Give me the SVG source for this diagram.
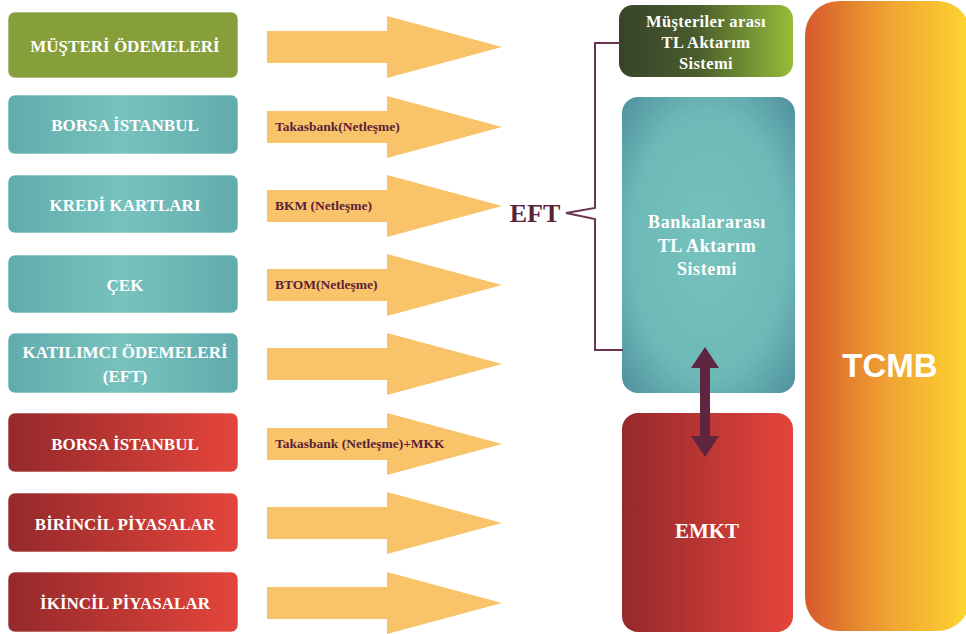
<svg xmlns="http://www.w3.org/2000/svg" xmlns:xlink="http://www.w3.org/1999/xlink" width="966" height="634" viewBox="0 0 966 634">
  <defs>
    <linearGradient id="gTealL" x1="0" y1="0" x2="1" y2="0">
      <stop offset="0" stop-color="#62abac"/>
      <stop offset="0.5" stop-color="#77c2bd"/>
      <stop offset="1" stop-color="#62abad"/>
    </linearGradient>
    <radialGradient id="gTealR" cx="0.5" cy="0.5" r="0.75">
      <stop offset="0" stop-color="#76c2bd"/>
      <stop offset="0.6" stop-color="#6db9b7"/>
      <stop offset="1" stop-color="#4a8899"/>
    </radialGradient>
    <linearGradient id="gRed" x1="0" y1="0" x2="1" y2="0">
      <stop offset="0" stop-color="#95292b"/>
      <stop offset="1" stop-color="#e4453b"/>
    </linearGradient>
    <linearGradient id="gGreenR" x1="0" y1="0" x2="1" y2="0">
      <stop offset="0" stop-color="#37432a"/>
      <stop offset="0.45" stop-color="#4a5c2c"/>
      <stop offset="1" stop-color="#95bd3a"/>
    </linearGradient>
    <linearGradient id="gTcmb" x1="0" y1="0" x2="1" y2="0">
      <stop offset="0" stop-color="#d75a2c"/>
      <stop offset="0.5" stop-color="#f0a232"/>
      <stop offset="1" stop-color="#fdd631"/>
    </linearGradient>
    <path id="arrow" d="M267,-16 H387 V-31 L502,0 L387,31 V16 H267 Z"/>
  </defs>
  <style>
    .box { stroke: #ffffff; stroke-opacity: 0.6; stroke-width: 1; }
    .green { fill: #879f3b; }
    .teal { fill: url(#gTealL); }
    .red { fill: url(#gRed); }
    .lbl { font-family: "Liberation Serif", "DejaVu Serif", serif; font-weight: bold; fill: #ffffff; font-size: 17px; text-anchor: middle; }
    .arr { fill: #f9c36a; }
    .alb { font-family: "Liberation Serif", "DejaVu Serif", serif; font-weight: bold; fill: #5a2238; font-size: 13.5px; }
    .rlb { font-family: "Liberation Serif", "DejaVu Serif", serif; font-weight: bold; fill: #ffffff; text-anchor: middle; }
    .conn { fill: none; stroke: #6b3452; stroke-width: 2; }
  </style>

  <!-- Left boxes -->
  <g id="n-musteri">
    <rect class="box green" x="8" y="12" width="230" height="66" rx="7"/>
    <text class="lbl" x="125" y="52">MÜŞTERİ ÖDEMELERİ</text>
  </g>
  <g id="n-borsa1">
    <rect class="box teal" x="8" y="95" width="230" height="59" rx="7"/>
    <text class="lbl" x="125" y="131">BORSA İSTANBUL</text>
  </g>
  <g id="n-kredi">
    <rect class="box teal" x="8" y="175" width="230" height="58" rx="7"/>
    <text class="lbl" x="125" y="211">KREDİ KARTLARI</text>
  </g>
  <g id="n-cek">
    <rect class="box teal" x="8" y="255" width="230" height="58" rx="7"/>
    <text class="lbl" x="125" y="291">ÇEK</text>
  </g>
  <g id="n-katilimci">
    <rect class="box teal" x="8" y="333" width="230" height="60" rx="7"/>
    <text class="lbl" x="125" y="358">KATILIMCI ÖDEMELERİ</text>
    <text class="lbl" x="125" y="382">(EFT)</text>
  </g>
  <g id="n-borsa2">
    <rect class="box red" x="8" y="413" width="230" height="59" rx="7"/>
    <text class="lbl" x="125" y="450">BORSA İSTANBUL</text>
  </g>
  <g id="n-birincil">
    <rect class="box red" x="8" y="493" width="230" height="59" rx="7"/>
    <text class="lbl" x="125" y="530">BİRİNCİL PİYASALAR</text>
  </g>
  <g id="n-ikincil">
    <rect class="box red" x="8" y="572" width="230" height="60" rx="7"/>
    <text class="lbl" x="125" y="609">İKİNCİL PİYASALAR</text>
  </g>

  <g id="n-eft">
    <text x="535" y="222" font-family="Liberation Serif, DejaVu Serif, serif" font-weight="bold" font-size="26" fill="#5a2238" text-anchor="middle">EFT</text>
  </g>

  <!-- Right side -->
  <g id="n-musteriler-arasi">
    <rect x="619" y="5" width="174" height="72" rx="14" fill="url(#gGreenR)"/>
    <text class="rlb" x="706" y="27" font-size="16.5" letter-spacing="0.4">Müşteriler arası</text>
    <text class="rlb" x="706" y="48" font-size="16.5" letter-spacing="0.4">TL Aktarım</text>
    <text class="rlb" x="706" y="69" font-size="16.5" letter-spacing="0.4">Sistemi</text>
  </g>
  <g id="n-bankalararasi">
    <rect x="622" y="97" width="173" height="296" rx="16" fill="url(#gTealR)"/>
    <text class="rlb" x="707" y="228" font-size="18" letter-spacing="0.6">Bankalararası</text>
    <text class="rlb" x="707" y="252" font-size="18" letter-spacing="0.6">TL Aktarım</text>
    <text class="rlb" x="707" y="275" font-size="18" letter-spacing="0.6">Sistemi</text>
  </g>
  <g id="n-emkt">
    <rect x="622" y="413" width="171" height="219" rx="16" fill="url(#gRed)"/>
    <text class="rlb" x="707" y="538" font-size="21">EMKT</text>
  </g>
  <g id="n-tcmb">
    <rect x="805" y="1" width="166" height="630" rx="34" fill="url(#gTcmb)"/>
    <text x="890" y="377" font-family="Liberation Sans, Arial, sans-serif" font-weight="bold" font-size="33" fill="#ffffff" text-anchor="middle">TCMB</text>
  </g>

  <!-- Connectors -->
  <g id="connectors">
    <use class="arr" href="#arrow" xlink:href="#arrow" y="47"/>
    <use class="arr" href="#arrow" xlink:href="#arrow" y="127"/>
    <use class="arr" href="#arrow" xlink:href="#arrow" y="206"/>
    <use class="arr" href="#arrow" xlink:href="#arrow" y="285"/>
    <use class="arr" href="#arrow" xlink:href="#arrow" y="364"/>
    <use class="arr" href="#arrow" xlink:href="#arrow" y="444"/>
    <use class="arr" href="#arrow" xlink:href="#arrow" y="523"/>
    <use class="arr" href="#arrow" xlink:href="#arrow" y="603"/>
    <text class="alb" x="275" y="131">Takasbank(Netleşme)</text>
    <text class="alb" x="275" y="210">BKM (Netleşme)</text>
    <text class="alb" x="275" y="289">BTOM(Netleşme)</text>
    <text class="alb" x="275" y="448">Takasbank (Netleşme)+MKK</text>
    <path class="conn" d="M620,43 H595 V208 L566,213 L595,219 V350 H623"/>
    <polygon fill="#5e2540" points="705,347 719,368 710,368 710,436 719,436 705,457 691,436 700,436 700,368 691,368"/>
  </g>
</svg>
